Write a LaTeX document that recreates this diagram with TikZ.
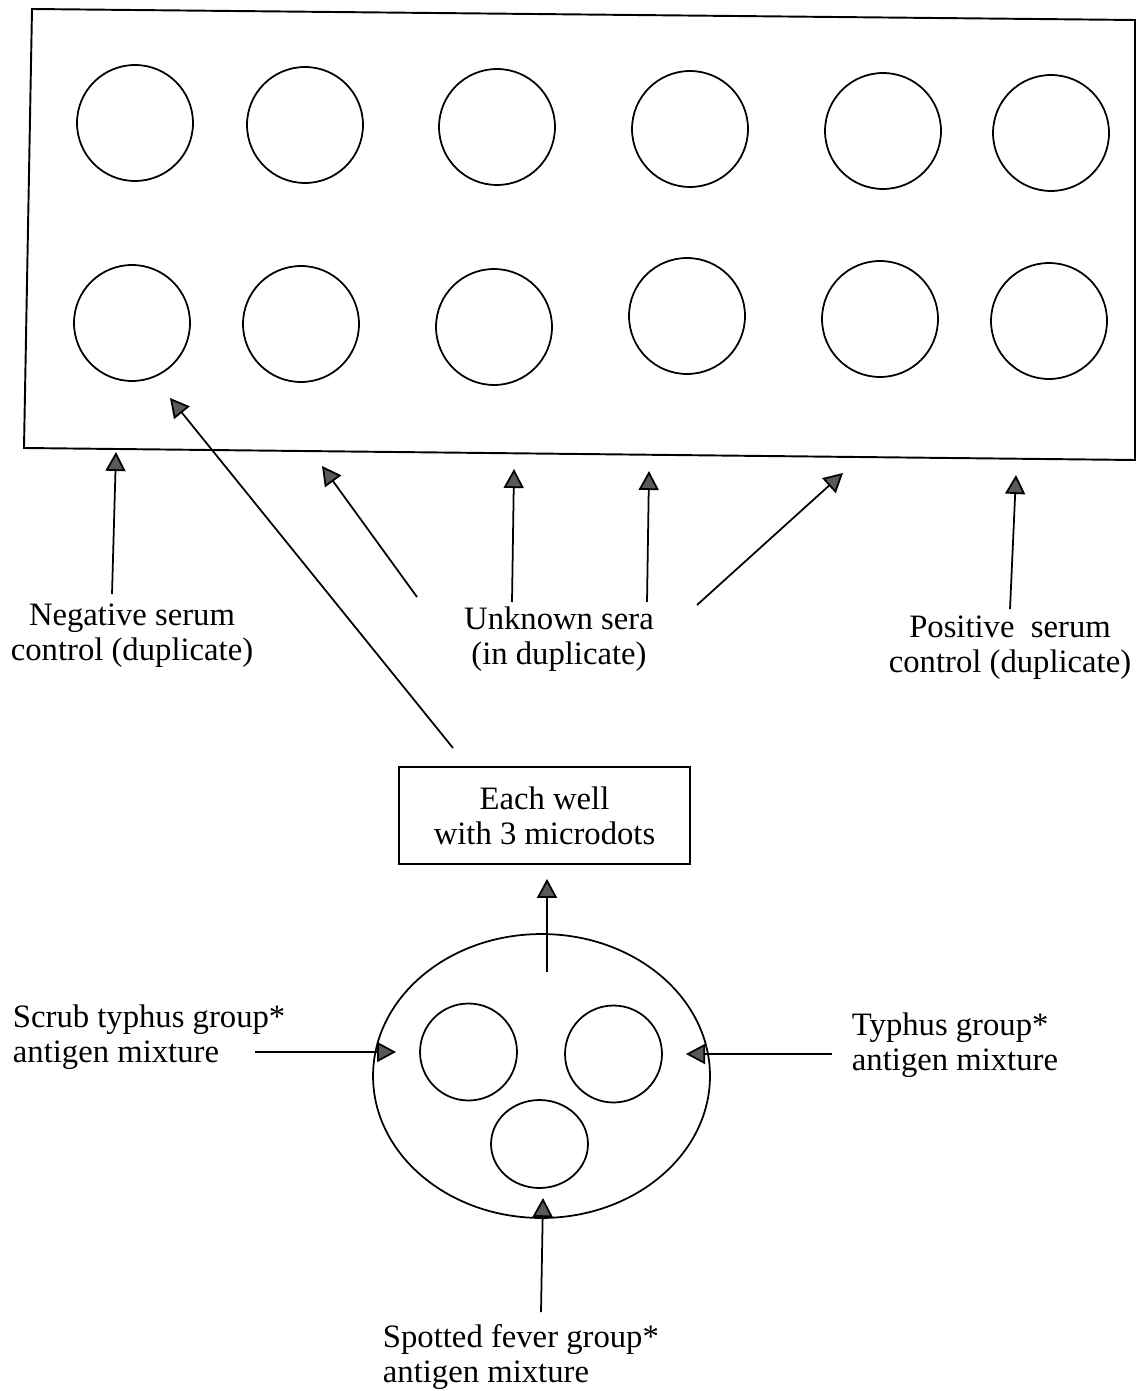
\documentclass[tikz,border=0pt]{standalone}
\usepackage{fontspec}
\setmainfont{Liberation Serif}
\usetikzlibrary{arrows.meta, shapes.geometric, positioning}

\begin{document}
\begin{tikzpicture}[x=0.02cm, y=-0.02cm, line width=1.1pt,
    font=\fontsize{18.6}{19.9}\selectfont,
    pointer/.style={-{Triangle[width=0.4cm, length=0.38cm, fill=black!65]}, line width=1pt},
    well/.style={draw, circle, minimum size=2.32cm, inner sep=0pt, line width=1pt},
    dot/.style={draw, circle, minimum size=1.94cm, inner sep=0pt, line width=1pt},
    lbl/.style={align=center, inner sep=0pt},
    lbll/.style={align=left, inner sep=0pt, anchor=west}]
\useasboundingbox (0,0) rectangle (1136,1391);

% the plate
\draw (32,9) coordinate (plate-nw) -- (1135,20) coordinate (plate-ne)
    -- (1135,460) coordinate (plate-se) -- (24,448) coordinate (plate-sw) -- cycle;

\node[well] (w11) at (135,123) {};
\node[well] (w12) at (305,125) {};
\node[well] (w13) at (497,127) {};
\node[well] (w14) at (690,129) {};
\node[well] (w15) at (883,131) {};
\node[well] (w16) at (1051,133) {};

\node[well] (w21) at (132,323) {};
\node[well] (w22) at (301,324) {};
\node[well] (w23) at (494,327) {};
\node[well] (w24) at (687,316) {};
\node[well] (w25) at (880,319) {};
\node[well] (w26) at (1049,321) {};

% labels under the plate
\node[lbl] (neg) at (132,636) {Negative serum\\control (duplicate)};
\node[lbl] (unknown) at (559,639) {Unknown sera\\(in duplicate)};
\node[lbl] (pos) at (1010,648) {Positive\ \ serum\\control (duplicate)};

\coordinate (neg-tail) at (112,594);
\coordinate (neg-head) at (116,452);
\coordinate (unk1-tail) at (417,597);
\coordinate (unk1-head) at (322,466);
\coordinate (unk2-tail) at (512,602);
\coordinate (unk2-head) at (514,469);
\coordinate (unk3-tail) at (647,602);
\coordinate (unk3-head) at (649,471);
\coordinate (unk4-tail) at (697,605);
\coordinate (unk4-head) at (843,473);
\coordinate (pos-tail) at (1010,609);
\coordinate (pos-head) at (1016,475);

\draw[pointer] (neg-tail) -- (neg-head);
\draw[pointer] (unk1-tail) -- (unk1-head);
\draw[pointer] (unk2-tail) -- (unk2-head);
\draw[pointer] (unk3-tail) -- (unk3-head);
\draw[pointer] (unk4-tail) -- (unk4-head);
\draw[pointer] (pos-tail) -- (pos-head);

% the well and its microdots
\node[draw, minimum width=5.82cm, minimum height=1.94cm, align=center, line width=1pt] (well-box) at (544.5,815.5) {Each well\\with 3 microdots};

\node[draw, ellipse, minimum width=6.74cm, minimum height=5.68cm, inner sep=0pt, line width=1pt] (slide) at (541.5,1076) {};
\node[dot] (scrub-dot) at (468.5,1052) {};
\node[dot] (typhus-dot) at (613.5,1054) {};
\node[draw, ellipse, minimum width=1.94cm, minimum height=1.76cm, inner sep=0pt, line width=1pt] (spotted-dot) at (539.5,1144) {};

\coordinate (big-tail) at (453,748);
\coordinate (big-head) at (170,398);
\draw[pointer] (big-tail) -- (big-head);

\coordinate (up-tail) at (547,972);
\draw[pointer, shorten >=0.28cm] (up-tail) -- (well-box.south -| up-tail);

% antigens
\node[lbll] (scrub) at (12,1037) {Scrub typhus group*\\antigen mixture};
\node[lbll] (typhus) at (851,1045) {Typhus group*\\antigen mixture};
\node[lbll] (spotted) at (382,1357) {Spotted fever group*\\antigen mixture};

\coordinate (scrub-tail) at (255,1052);
\coordinate (scrub-head) at (396,1052);
\coordinate (typhus-tail) at (832,1054);
\coordinate (typhus-head) at (686,1054);
\coordinate (spotted-tail) at (541,1312);
\coordinate (spotted-head) at (543,1198);

\draw[pointer] (scrub-tail) -- (scrub-head);
\draw[pointer] (typhus-tail) -- (typhus-head);
\draw[pointer] (spotted-tail) -- (spotted-head);

\end{tikzpicture}
\end{document}
